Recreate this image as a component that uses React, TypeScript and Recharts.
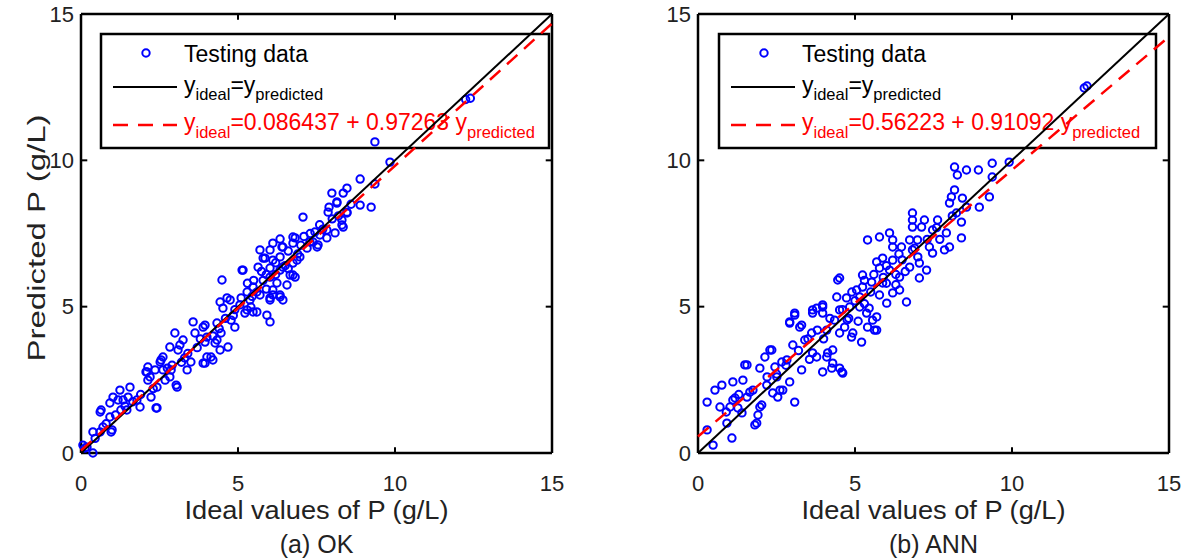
import React from "react";
import { ReferenceLine, Scatter, ScatterChart, XAxis, YAxis } from "recharts";

const FONT = "'Liberation Sans', Arial, Helvetica, sans-serif";

const axisTicks = [0, 5, 10, 15];
const innerTicks = [5, 10];
const tickLen = 0.2; // length of the inward ticks, in axis units

// (a) OK: [ideal, predicted]
const okPoints: [number, number][] = [
  [12.25, 12.08], [12.4, 12.12], [9.36, 10.63], [9.84, 9.94], [8.89, 9.36], [9.36, 9.19], [8.47, 9.05],
  [8.35, 8.88], [7.99, 8.88], [8.89, 8.47], [9.24, 8.4], [8.15, 8.58], [7.87, 8.23], [8.47, 8.23],
  [8.31, 7.96], [8.31, 7.79], [8.09, 7.52], [7.07, 8.06], [7.83, 7.62], [7.61, 7.45], [7.52, 7.04],
  [7.29, 7.21], [7.83, 7.35], [6.75, 7.38], [6.34, 7.31], [6.11, 7.17], [6.4, 7.04], [6.75, 7.17],
  [5.7, 6.94], [6.02, 6.94], [5.8, 6.66], [6.11, 6.59], [6.34, 6.7], [6.75, 6.49], [6.97, 6.7],
  [5.64, 6.35], [5.13, 6.25], [4.49, 5.91], [6.02, 6.01], [6.34, 6.25], [6.75, 6.08], [6.56, 5.74],
  [6.11, 5.57], [5.7, 5.4], [6.34, 5.33], [6.02, 5.3], [4.43, 5.16], [4.65, 5.3], [5.29, 5.5],
  [5.48, 5.67], [5.06, 5.06], [5.29, 4.89], [5.6, 4.82], [6.02, 4.48], [6.11, 5.4], [3.57, 4.48],
  [3.89, 4.3], [4.33, 4.44], [4.01, 3.96], [4.33, 3.86], [4.43, 3.52], [4.01, 3.28], [3.89, 3.07],
  [4.2, 3.18], [2.99, 4.1], [3.25, 3.86], [3.15, 3.69], [2.83, 3.62], [2.61, 3.28], [2.52, 3.11],
  [2.13, 2.94], [2.1, 2.77], [2.2, 2.6], [2.61, 2.84], [2.83, 2.6], [3.06, 2.25], [3.38, 2.84],
  [2.42, 2.25], [1.56, 2.25], [1.24, 2.15], [1.02, 1.91], [0.61, 1.4], [0.92, 1.71], [1.34, 1.81],
  [1.46, 1.47], [1.88, 1.57], [1.78, 1.81], [2.42, 1.54], [0.92, 1.23], [0.7, 0.89], [0.99, 0.79],
  [0.38, 0.72], [0.06, 0.27], [0.19, 0.2], [0.38, 0.0], [7.55, 7.11], [7.39, 7.21], [7.2, 7.0],
  [6.82, 7.35], [6.43, 7.04], [5.86, 6.66], [5.16, 6.25], [6.02, 6.32], [6.43, 6.35], [6.88, 6.59],
  [6.66, 6.08], [6.24, 5.81], [6.82, 6.01], [6.34, 5.4], [6.02, 5.23], [5.38, 5.23], [4.75, 5.23],
  [4.52, 4.95], [5.48, 4.82], [5.92, 4.71], [6.43, 5.23], [8.35, 7.72], [8.47, 8.2], [8.15, 8.54],
  [0.13, 0.17], [0.61, 0.72], [0.96, 0.72], [0.64, 1.47], [1.18, 1.81], [1.5, 1.91], [1.27, 1.47],
  [2.39, 1.54], [2.23, 1.91], [2.07, 2.77], [2.36, 2.84], [2.13, 2.49], [2.55, 3.18], [2.68, 2.49],
  [3.03, 2.32], [2.87, 2.84], [3.09, 3.52], [3.63, 4.1], [3.95, 3.79], [3.5, 3.11], [3.95, 3.07],
  [4.14, 3.28], [4.27, 3.76], [4.46, 4.1], [4.78, 4.54], [5.22, 4.78], [5.41, 4.99], [4.9, 4.3],
  [4.68, 3.62], [3.95, 4.37], [5.5, 5.9], [5.9, 6.1], [5.3, 5.8], [5.8, 5.9], [6.2, 6.5], [6.6, 6.9],
  [7.0, 7.1], [7.3, 7.5], [7.6, 7.8], [8.0, 8.0], [7.9, 8.4], [8.6, 8.5],
  [3.7, 3.6], [3.4, 3.4], [3.2, 3.1], [2.9, 3.0], [4.6, 4.6], [4.9, 4.9], [5.1, 5.3], [5.6, 5.5],
  [4.2, 4.0], [4.4, 4.25], [3.8, 3.9], [2.3, 2.2], [1.9, 2.0], [1.65, 1.75], [1.4, 1.6], [0.8, 1.0],
  [5.9, 5.6], [6.2, 6.1], [6.5, 6.4], [6.9, 6.8], [7.1, 7.4], [5.75, 6.2], [4.85, 4.7], [3.3, 3.25],
  [2.75, 2.9], [1.1, 1.3], [0.45, 0.5], [6.6, 6.3], [7.45, 7.55], [7.7, 7.65], [8.2, 8.1], [5.45, 5.35],
];

// (b) ANN: [ideal, predicted]
const annPoints: [number, number][] = [
  [12.3, 12.47], [12.39, 12.54], [8.17, 9.77], [8.26, 9.5], [8.55, 9.67], [8.93, 9.67], [9.37, 9.9],
  [9.37, 9.43], [9.91, 9.94], [8.17, 8.99], [8.07, 8.75], [8.42, 8.71], [8.01, 8.54], [8.55, 8.4],
  [9.28, 8.75], [8.96, 8.4], [8.23, 8.2], [6.83, 8.2], [6.83, 7.96], [7.21, 7.96], [6.83, 7.72],
  [7.12, 7.72], [7.63, 7.96], [8.39, 7.89], [8.39, 7.35], [7.91, 7.52], [7.47, 7.62], [6.1, 7.52],
  [5.78, 7.38], [5.4, 7.28], [6.2, 7.28], [6.74, 7.28], [6.99, 7.28], [6.2, 7.04], [6.48, 7.04],
  [6.83, 6.94], [7.37, 7.04], [7.47, 6.83], [7.85, 6.94], [8.01, 7.04], [5.69, 6.53], [5.88, 6.66],
  [6.2, 6.59], [5.78, 6.32], [6.1, 6.25], [6.74, 6.35], [7.05, 6.49], [7.28, 6.25], [5.24, 6.08],
  [4.51, 5.98], [4.45, 5.91], [6.42, 6.01], [7.05, 5.98], [5.53, 5.84], [5.88, 5.81], [5.24, 5.67],
  [5.05, 5.57], [5.78, 5.4], [6.2, 5.47], [6.42, 5.57], [6.64, 5.16], [4.42, 5.33], [3.97, 5.06],
  [3.78, 4.95], [4.73, 5.3], [5.15, 5.33], [6.01, 5.12], [2.92, 4.44], [3.08, 4.71], [3.24, 4.3],
  [3.65, 4.89], [3.97, 4.78], [4.51, 4.89], [4.83, 4.99], [5.15, 4.99], [5.37, 4.78], [5.56, 4.54],
  [5.69, 4.2], [5.21, 3.79], [4.93, 4.1], [4.51, 4.1], [4.1, 4.2], [4.29, 3.52], [4.1, 3.28],
  [3.97, 2.77], [4.51, 2.9], [4.61, 2.73], [4.29, 3.07], [3.65, 3.42], [3.3, 2.84], [2.92, 2.43],
  [2.83, 3.18], [2.29, 3.52], [2.13, 3.28], [1.97, 2.9], [2.45, 2.94], [2.51, 2.6], [2.19, 2.32],
  [2.61, 2.15], [3.08, 1.74], [2.38, 2.05], [1.56, 3.01], [1.43, 2.49], [1.11, 2.43], [0.76, 2.32],
  [0.54, 2.15], [0.29, 1.74], [0.7, 1.57], [1.11, 1.81], [1.02, 1.57], [1.56, 1.91], [1.97, 1.57],
  [1.75, 2.15], [1.4, 1.37], [0.92, 1.02], [1.87, 1.02], [1.81, 0.96], [0.29, 0.79], [1.08, 0.51],
  [0.48, 0.27], [1.18, 1.88], [1.27, 1.54], [1.65, 2.08], [2.03, 1.64], [1.91, 1.3], [1.49, 3.01],
  [2.35, 3.52], [2.67, 3.11], [2.54, 1.91], [2.7, 2.15], [3.02, 3.69], [2.92, 4.48], [3.08, 4.78],
  [3.3, 4.37], [3.62, 4.1], [3.4, 3.86], [4.26, 2.9], [4.58, 2.77], [3.78, 3.28], [4.13, 3.42],
  [3.97, 4.99], [4.35, 4.54], [4.67, 4.3], [4.89, 3.96], [5.4, 4.3], [5.69, 4.65], [5.62, 4.2],
  [3.65, 4.78], [5.0, 5.2], [5.5, 5.5], [6.0, 5.8], [6.3, 6.1], [4.8, 4.6], [5.3, 5.1], [6.5, 6.6],
  [6.9, 7.0], [7.3, 7.3], [7.7, 7.3], [8.1, 8.1], [5.9, 6.0],
  [4.2, 4.6], [4.6, 4.9], [3.5, 3.9], [3.8, 4.2], [3.2, 3.5], [2.8, 3.0], [2.5, 2.7], [4.9, 5.5],
  [5.3, 5.9], [5.6, 6.1], [6.0, 6.4], [6.4, 6.8], [6.6, 6.2], [5.45, 4.95], [4.75, 4.55], [4.0, 3.9],
  [3.55, 3.2], [2.2, 2.6], [1.3, 2.0], [0.9, 1.4], [6.3, 5.75], [7.0, 6.7], [7.6, 7.7], [5.1, 4.5],
];

const idealLine = [{ x: 0, y: 0 }, { x: 15, y: 15 }];
const okFit = [{ x: 0, y: 0.086 }, { x: 15, y: 14.676 }];
const annFit = [{ x: 0, y: 0.562 }, { x: 15, y: 14.226 }];
// corners of the axis box, so the top/right frame axes get a domain of their own
const frameCorners = [{ x: 0, y: 0 }, { x: 15, y: 15 }];

const toXY = (pts: [number, number][]) => pts.map(([x, y]) => ({ x, y }));

// inward tick marks on all four sides of the box
const tickSegments = innerTicks.flatMap((v) => [
  [{ x: v, y: 0 }, { x: v, y: tickLen }],
  [{ x: v, y: 15 }, { x: v, y: 15 - tickLen }],
  [{ x: 0, y: v }, { x: tickLen, y: v }],
  [{ x: 15, y: v }, { x: 15 - tickLen, y: v }],
]);

function Ring(props: any) {
  if (props.cx == null || props.cy == null) return <g />;
  return <circle cx={props.cx} cy={props.cy} r={3.7} fill="none" stroke="#0000ff" strokeWidth={2} />;
}

function NoDot() {
  return <g />;
}

type PanelProps = {
  left: number;
  points: [number, number][];
  fit: { x: number; y: number }[];
  fitText: string;
  caption: string;
  boxX: number;
  boxW: number;
  showYLabel: boolean;
};

function Panel({ left, points, fit, fitText, caption, boxX, boxW, showYLabel }: PanelProps) {
  const tickFont = { fontSize: 22, fill: "#222", fontFamily: FONT, stroke: "none" };
  const frame = { stroke: "#000", strokeWidth: 2.5 };
  return (
    <div style={{ position: "absolute", left, top: 0, width: 576, height: 560 }}>
      {/* legend and titles sit behind the plot, like the original figure */}
      <svg width={576} height={560} style={{ position: "absolute", left: 0, top: 0 }} fontFamily={FONT}>
        <rect x={boxX} y={34} width={boxW} height={114} fill="#fff" stroke="#000" strokeWidth={2.5} />
        <circle cx={boxX + 45} cy={53} r={3.7} fill="none" stroke="#0000ff" strokeWidth={2} />
        <text x={boxX + 83} y={62} fontSize={23} fill="#000">Testing data</text>
        <line x1={boxX + 12} x2={boxX + 76} y1={87} y2={87} stroke="#000" strokeWidth={2} />
        <text x={boxX + 83} y={93} fontSize={23} fill="#000">
          y<tspan fontSize={16.5} dy={7}>ideal</tspan>
          <tspan dy={-7}>=y</tspan>
          <tspan fontSize={16.5} dy={7}>predicted</tspan>
        </text>
        <line x1={boxX + 12} x2={boxX + 76} y1={125} y2={125} stroke="#ff0000" strokeWidth={2.5} strokeDasharray="15 10" />
        <text x={boxX + 83} y={130} fontSize={23} fill="#ff0000">
          y<tspan fontSize={16.5} dy={8}>ideal</tspan>
          <tspan dy={-8}>{fitText}</tspan>
          <tspan fontSize={16.5} dy={8}>predicted</tspan>
        </text>
        <text x={316.5} y={519} textAnchor="middle" fontSize={25} fill="#222" textLength={264} lengthAdjust="spacingAndGlyphs">
          Ideal values of P (g/L)
        </text>
        <text x={316.5} y={553} textAnchor="middle" fontSize={25} fill="#222">{caption}</text>
        {showYLabel && (
          <text transform="translate(45,238) rotate(-90)" textAnchor="middle" fontSize={23} fill="#222" textLength={247} lengthAdjust="spacingAndGlyphs">
            Predicted P (g/L)
          </text>
        )}
      </svg>
      <div style={{ position: "absolute", left: 0, top: 0 }}>
        <ScatterChart width={576} height={560} margin={{ top: 13, right: 23, bottom: 106, left: 80 }}>
          <XAxis xAxisId="x" dataKey="x" type="number" domain={[0, 15]} ticks={axisTicks} interval={0} height={1}
            tickSize={0} tickMargin={22} tickLine={false} axisLine={frame} tick={tickFont} />
          <XAxis xAxisId="xtop" dataKey="x" type="number" domain={[0, 15]} ticks={axisTicks} interval={0}
            orientation="top" height={1} tick={false} tickLine={false} axisLine={frame} />
          <YAxis yAxisId="y" dataKey="y" type="number" domain={[0, 15]} ticks={axisTicks} interval={0} width={1}
            tickSize={0} tickMargin={7} tickLine={false} axisLine={frame} tick={tickFont} />
          <YAxis yAxisId="yright" dataKey="y" type="number" domain={[0, 15]} ticks={axisTicks} interval={0}
            orientation="right" width={1} tick={false} tickLine={false} axisLine={frame} />
          <Scatter data={frameCorners} xAxisId="xtop" yAxisId="yright" shape={NoDot} isAnimationActive={false} />
          {tickSegments.map((seg, i) => (
            <ReferenceLine key={i} xAxisId="x" yAxisId="y" segment={seg} stroke="#000" strokeWidth={2} />
          ))}
          <Scatter data={toXY(points)} xAxisId="x" yAxisId="y" shape={Ring} isAnimationActive={false} />
          <Scatter data={idealLine} xAxisId="x" yAxisId="y" shape={NoDot} line={{ stroke: "#000", strokeWidth: 2 }}
            isAnimationActive={false} />
          <Scatter data={fit} xAxisId="x" yAxisId="y" shape={NoDot}
            line={{ stroke: "#ff0000", strokeWidth: 2.5, strokeDasharray: "14 9" }} isAnimationActive={false} />
        </ScatterChart>
      </div>
    </div>
  );
}

export default function App() {
  return (
    <div style={{ position: "absolute", left: 0, top: 0, width: 1193, height: 560, background: "#fff" }}>
      <Panel left={0} points={okPoints} fit={okFit} fitText="=0.086437 + 0.97263 y" caption="(a) OK"
        boxX={101} boxW={448} showYLabel />
      <Panel left={617} points={annPoints} fit={annFit} fitText="=0.56223 + 0.91092 y" caption="(b) ANN"
        boxX={102} boxW={437} showYLabel={false} />
    </div>
  );
}
